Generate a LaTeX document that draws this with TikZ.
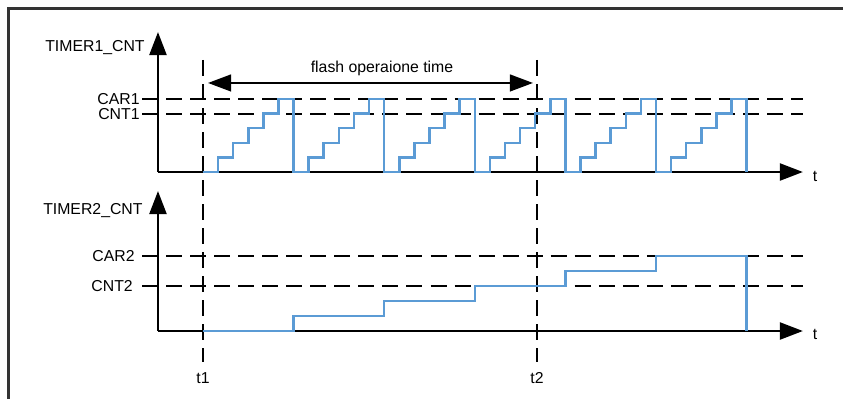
\documentclass[tikz,border=0pt]{standalone}
\usepackage{fontspec}
\setmainfont{Liberation Sans}
\usetikzlibrary{arrows.meta}
\definecolor{cntblue}{RGB}{91,155,213}

\begin{document}
\begin{tikzpicture}[line cap=butt,line join=miter,>={Triangle[length=11pt,width=8pt]},x=1.0cm,y=1.0cm,
    axisline/.style={line width=1.4pt},
    guide/.style={line width=0.95pt,dash pattern=on 7.6pt off 3.8pt},
    cnt/.style={cntblue,line width=1.2pt},
    lbl/.style={inner sep=0pt,font=\fontsize{7.5}{9}\selectfont}]
                  \useasboundingbox (0,0) rectangle (14.05,6.65);
                  % frame
                  \draw[line width=1.3pt,black!80] (0.14,0) -- (0.14,6.51) -- (14.05,6.51);
                  % axes
                  \coordinate (o1) at (2.633,3.783);
                  \coordinate (o2) at (2.633,1.133);
                  \coordinate (y1) at (2.633,6.117);
                  \coordinate (y2) at (2.633,3.467);
                  \coordinate (x1) at (13.383,3.783);
                  \coordinate (x2) at (13.383,1.133);
                  \draw[->,axisline] (o1) -- (y1);
                  \draw[->,axisline] (o1) -- (x1);
                  \draw[->,axisline] (o2) -- (y2);
                  \draw[->,axisline] (o2) -- (x2);
                  \node[lbl,anchor=east] (ttl1) at (2.417,5.85) {TIMER1\_CNT};
                  \node[lbl,anchor=east] (ttl2) at (2.383,3.133) {TIMER2\_CNT};
                  \node[lbl] (tx1) at (13.583,3.717) {t};
                  \node[lbl] (tx2) at (13.583,1.083) {t};
                  % compare levels
                  \node[lbl,anchor=east] (car1) at (2.333,5.0) {CAR1};
                  \node[lbl,anchor=east] (cnt1) at (2.333,4.75) {CNT1};
                  \node[lbl,anchor=east] (car2) at (2.25,2.383) {CAR2};
                  \node[lbl,anchor=east] (cnt2) at (2.22,1.883) {CNT2};
                  \draw[guide] (2.367,5.0) -- (13.383,5.0);
                  \draw[guide] (2.367,4.75) -- (13.383,4.75);
                  \draw[guide] (2.367,2.383) -- (13.383,2.383);
                  \draw[guide] (2.367,1.883) -- (13.383,1.883);
                  % time marks
                  \node[lbl] (t1) at (3.383,0.35) {t1};
                  \node[lbl] (t2) at (8.95,0.35) {t2};
                  \coordinate (t1top) at (3.383,5.65);
                  \coordinate (t2top) at (8.95,5.65);
                  \draw[guide] (t1top) -- (3.383,0.617);
                  \draw[guide] (t2top) -- (8.95,0.617);
                  \coordinate (fa) at (3.467,5.267);
                  \coordinate (fb) at (8.883,5.267);
                  \draw[<->,line width=0.95pt] (fa) -- (fb);
                  \node[lbl] (flash) at (6.367,5.517) {flash operaione time};
                  % TIMER1 counter
                  \draw[cnt] (3.383,3.783) -| (3.635,4.027) -| (3.886,4.27) -| (4.138,4.513) -| (4.39,4.757) -| (4.641,5.0) -| (4.893,3.783)
                      -| (5.145,4.027) -| (5.396,4.27) -| (5.648,4.513) -| (5.9,4.757) -| (6.151,5.0) -| (6.403,3.783)
                      -| (6.655,4.027) -| (6.906,4.27) -| (7.158,4.513) -| (7.41,4.757) -| (7.661,5.0) -| (7.913,3.783)
                      -| (8.165,4.027) -| (8.416,4.27) -| (8.668,4.513) -| (8.92,4.757) -| (9.171,5.0) -| (9.423,3.783)
                      -| (9.675,4.027) -| (9.926,4.27) -| (10.178,4.513) -| (10.43,4.757) -| (10.681,5.0) -| (10.933,3.783)
                      -| (11.185,4.027) -| (11.436,4.27) -| (11.688,4.513) -| (11.94,4.757) -| (12.191,5.0) -| (12.443,3.783);
                  % TIMER2 counter
                  \draw[cnt] (3.383,1.133) -| (4.893,1.383) -| (6.403,1.633) -| (7.913,1.883) -| (9.423,2.133) -| (10.933,2.383) -| (12.443,1.133);
              \end{tikzpicture}
\end{document}
